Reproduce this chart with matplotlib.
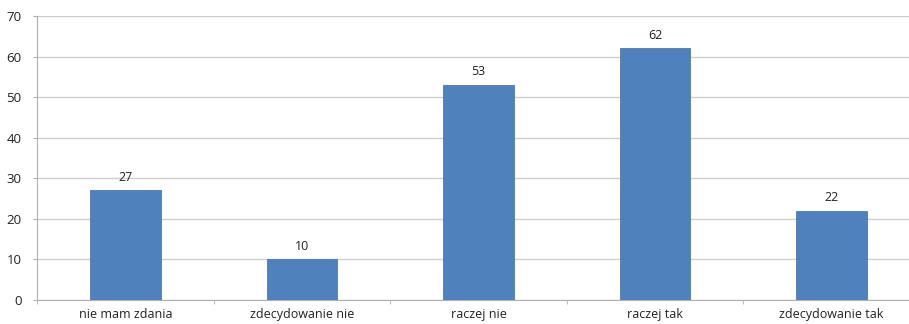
import matplotlib
matplotlib.use('Agg')
import numpy as np
from matplotlib import pyplot as plt

# dane z wykresu
categories = ['nie mam zdania', 'zdecydowanie nie', 'raczej nie', 'raczej tak', 'zdecydowanie tak']
values = [27, 10, 53, 62, 22]
yticks = [0, 10, 20, 30, 40, 50, 60, 70]

plt.rcParams['font.family'] = ['Open Sans', 'DejaVu Sans']

fig = plt.figure(figsize=(9.09, 3.24), dpi=100)
# os wychodzi poza prawy brzeg obrazka (jak w oryginale)
ax = fig.add_axes([37 / 909, 24 / 324, 883 / 909, 284 / 324])

x = np.arange(len(categories))
bars = ax.bar(x, values, width=0.4, color='#4F81BD', edgecolor='#4A7AB5', linewidth=0.6, zorder=3)

for b, v in zip(bars, values):
    ax.text(b.get_x() + b.get_width() / 2, v + 1.6, str(v), ha='center', va='bottom',
            fontsize=9, color='#222222')

ax.set_xlim(-0.5, len(categories) - 0.5)
ax.set_ylim(0, 70)
ax.set_yticks(yticks)
ax.yaxis.grid(True, color='#CFCFCF', linewidth=1.0, zorder=0)

ax.set_xticks(x)
ax.set_xticklabels(categories, fontsize=9, color='#222222')
ax.set_xticks(np.arange(-0.5, len(categories), 1), minor=True)
ax.tick_params(axis='x', which='major', length=0, pad=6)
ax.tick_params(axis='x', which='minor', length=3, color='#B0B0B0', direction='out')
ax.tick_params(axis='y', length=3, color='#B0B0B0', labelsize=9.5, labelcolor='#222222', pad=8)

for s in ['top', 'right']:
    ax.spines[s].set_visible(False)
ax.spines['left'].set_color('#B0B0B0')
ax.spines['bottom'].set_color('#B0B0B0')

fig.savefig('out.png', dpi=100)
